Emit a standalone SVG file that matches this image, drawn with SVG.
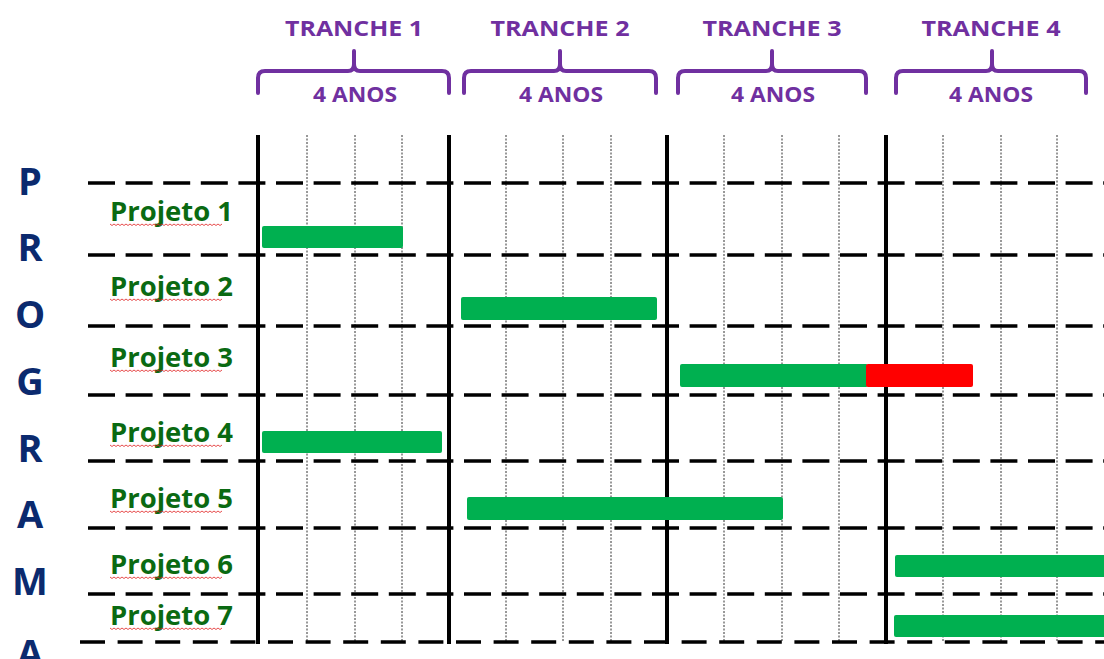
<svg xmlns="http://www.w3.org/2000/svg" xmlns:xlink="http://www.w3.org/1999/xlink" width="1104" height="659" viewBox="0 0 1104 659">
  <style>
    .hdr { font-family: "Open Sans", "Liberation Sans", sans-serif; font-weight: 700; fill: #7030A0; text-anchor: middle; }
    .brace { fill: none; stroke: #7030A0; stroke-width: 4; stroke-linecap: round; stroke-linejoin: round; }
    .prog { font-family: "Open Sans", "Liberation Sans", sans-serif; font-weight: 700; font-size: 38px; fill: #0B2A6E; text-anchor: middle; }
    .lbl { font-family: "Open Sans", "Liberation Sans", sans-serif; font-weight: 700; font-size: 26px; fill: #0A6A12; }
    .row { stroke: #000; stroke-width: 3.5; stroke-dasharray: 27 10.6; }
    .rowlast { stroke: #000; stroke-width: 3.5; stroke-dasharray: 25 12.6; }
    .major { stroke: #000; stroke-width: 4; }
    .minor { stroke: #333; stroke-width: 1; stroke-dasharray: 2 1.5; }
    .ok { fill: #00B050; }
    .late { fill: #FF0000; }
    .squig { fill: none; stroke: #E02020; stroke-width: 0.8; }
  </style>
  <defs>
    <path id="squiggle" class="squig" d="M0 0 l2 1.5 l2 -1.5 l2 1.5 l2 -1.5 l2 1.5 l2 -1.5 l2 1.5 l2 -1.5 l2 1.5 l2 -1.5 l2 1.5 l2 -1.5 l2 1.5 l2 -1.5 l2 1.5 l2 -1.5 l2 1.5 l2 -1.5 l2 1.5 l2 -1.5 l2 1.5 l2 -1.5 l2 1.5 l2 -1.5 l2 1.5 l2 -1.5 l2 1.5 l2 -1.5 l2 1.5 l2 -1.5 l2 1.5 l2 -1.5 l2 1.5 l2 -1.5 l2 1.5 l2 -1.5 l2 1.5 l2 -1.5 l2 1.5 l2 -1.5 l2 1.5 l2 -1.5 l2 1.5 l2 -1.5 l2 1.5 l2 -1.5 l2 1.5 l2 -1.5 l2 1.5 l2 -1.5 l2 1.5 l2 -1.5 l2 1.5 l2 -1.5 l2 1.5 l2 -1.5"/>
  </defs>
  <rect width="1104" height="659" fill="#fff"/>

  <!-- Tranche headers with braces -->
  <g id="tranche1">
    <text class="hdr" x="354" y="36" font-size="22" textLength="138" lengthAdjust="spacingAndGlyphs">TRANCHE 1</text>
    <path class="brace" d="M258 93 V78 Q258 71 265 71 H348 Q354 71 354 64 V51 M354 64 Q354 71 360 71 H442 Q449 71 449 78 V93"/>
    <text class="hdr" x="355" y="102" font-size="21" textLength="84" lengthAdjust="spacingAndGlyphs">4 ANOS</text>
  </g>
  <g id="tranche2">
    <text class="hdr" x="560" y="36" font-size="22" textLength="139" lengthAdjust="spacingAndGlyphs">TRANCHE 2</text>
    <path class="brace" d="M464 93 V78 Q464 71 471 71 H554 Q560 71 560 64 V51 M560 64 Q560 71 566 71 H649 Q656 71 656 78 V93"/>
    <text class="hdr" x="561" y="102" font-size="21" textLength="84" lengthAdjust="spacingAndGlyphs">4 ANOS</text>
  </g>
  <g id="tranche3">
    <text class="hdr" x="772" y="36" font-size="22" textLength="139" lengthAdjust="spacingAndGlyphs">TRANCHE 3</text>
    <path class="brace" d="M678 93 V78 Q678 71 685 71 H766 Q772 71 772 64 V51 M772 64 Q772 71 778 71 H859 Q866 71 866 78 V93"/>
    <text class="hdr" x="773" y="102" font-size="21" textLength="84" lengthAdjust="spacingAndGlyphs">4 ANOS</text>
  </g>
  <g id="tranche4">
    <text class="hdr" x="991" y="36" font-size="22" textLength="139" lengthAdjust="spacingAndGlyphs">TRANCHE 4</text>
    <path class="brace" d="M896 93 V78 Q896 71 903 71 H986 Q992 71 992 64 V51 M992 64 Q992 71 998 71 H1079 Q1086 71 1086 78 V93"/>
    <text class="hdr" x="991" y="102" font-size="21" textLength="84" lengthAdjust="spacingAndGlyphs">4 ANOS</text>
  </g>

  <!-- Vertical side title -->
  <g id="programa">
    <text class="prog" x="30" y="195">P</text>
    <text class="prog" x="30" y="261">R</text>
    <text class="prog" x="30" y="328">O</text>
    <text class="prog" x="30" y="395">G</text>
    <text class="prog" x="30" y="462">R</text>
    <text class="prog" x="30" y="528">A</text>
    <text class="prog" x="30" y="595">M</text>
    <text class="prog" x="30" y="667">A</text>
  </g>

  <!-- Grid -->
  <g id="grid">
    <line class="minor" x1="307" y1="135" x2="307" y2="642"/>
    <line class="minor" x1="355" y1="135" x2="355" y2="642"/>
    <line class="minor" x1="402" y1="135" x2="402" y2="642"/>
    <line class="minor" x1="506" y1="135" x2="506" y2="642"/>
    <line class="minor" x1="563" y1="135" x2="563" y2="642"/>
    <line class="minor" x1="611" y1="135" x2="611" y2="642"/>
    <line class="minor" x1="724" y1="135" x2="724" y2="642"/>
    <line class="minor" x1="782" y1="135" x2="782" y2="642"/>
    <line class="minor" x1="839" y1="135" x2="839" y2="642"/>
    <line class="minor" x1="943" y1="135" x2="943" y2="642"/>
    <line class="minor" x1="1001" y1="135" x2="1001" y2="642"/>
    <line class="minor" x1="1057" y1="135" x2="1057" y2="642"/>

    <line class="row" x1="88" y1="183" x2="1104" y2="183"/>
    <line class="row" x1="88" y1="255" x2="1104" y2="255"/>
    <line class="row" x1="88" y1="326" x2="1104" y2="326"/>
    <line class="row" x1="88" y1="395" x2="1104" y2="395"/>
    <line class="row" x1="88" y1="461" x2="1104" y2="461"/>
    <line class="row" x1="88" y1="528" x2="1104" y2="528"/>
    <line class="row" x1="88" y1="594" x2="1104" y2="594"/>
    <line class="rowlast" x1="80" y1="642" x2="1104" y2="642"/>

    <line class="major" x1="258" y1="135" x2="258" y2="644"/>
    <line class="major" x1="449" y1="135" x2="449" y2="644"/>
    <line class="major" x1="667" y1="135" x2="667" y2="644"/>
    <line class="major" x1="886" y1="135" x2="886" y2="644"/>
  </g>

  <!-- Projects -->
  <g id="projeto1">
    <text class="lbl" x="110" y="221" textLength="123" lengthAdjust="spacingAndGlyphs">Projeto 1</text>
    <use xlink:href="#squiggle" x="110" y="224"/>
    <rect class="ok" x="262" y="226" width="141" height="22" rx="2"/>
  </g>
  <g id="projeto2">
    <text class="lbl" x="110" y="296" textLength="123" lengthAdjust="spacingAndGlyphs">Projeto 2</text>
    <use xlink:href="#squiggle" x="110" y="299"/>
    <rect class="ok" x="461" y="297" width="196" height="23" rx="2"/>
  </g>
  <g id="projeto3">
    <text class="lbl" x="110" y="367" textLength="123" lengthAdjust="spacingAndGlyphs">Projeto 3</text>
    <use xlink:href="#squiggle" x="110" y="370"/>
    <rect class="ok" x="680" y="364" width="188" height="23" rx="2"/>
    <rect class="late" x="866" y="364" width="107" height="23" rx="2"/>
  </g>
  <g id="projeto4">
    <text class="lbl" x="110" y="442" textLength="123" lengthAdjust="spacingAndGlyphs">Projeto 4</text>
    <use xlink:href="#squiggle" x="110" y="445"/>
    <rect class="ok" x="262" y="431" width="180" height="22" rx="2"/>
  </g>
  <g id="projeto5">
    <text class="lbl" x="110" y="508" textLength="123" lengthAdjust="spacingAndGlyphs">Projeto 5</text>
    <use xlink:href="#squiggle" x="110" y="511"/>
    <rect class="ok" x="467" y="497" width="316" height="23" rx="2"/>
  </g>
  <g id="projeto6">
    <text class="lbl" x="110" y="574" textLength="123" lengthAdjust="spacingAndGlyphs">Projeto 6</text>
    <use xlink:href="#squiggle" x="110" y="577"/>
    <rect class="ok" x="895" y="555" width="215" height="22" rx="2"/>
  </g>
  <g id="projeto7">
    <text class="lbl" x="110" y="625" textLength="123" lengthAdjust="spacingAndGlyphs">Projeto 7</text>
    <use xlink:href="#squiggle" x="110" y="628"/>
    <rect class="ok" x="894" y="615" width="216" height="22" rx="2"/>
  </g>
</svg>
